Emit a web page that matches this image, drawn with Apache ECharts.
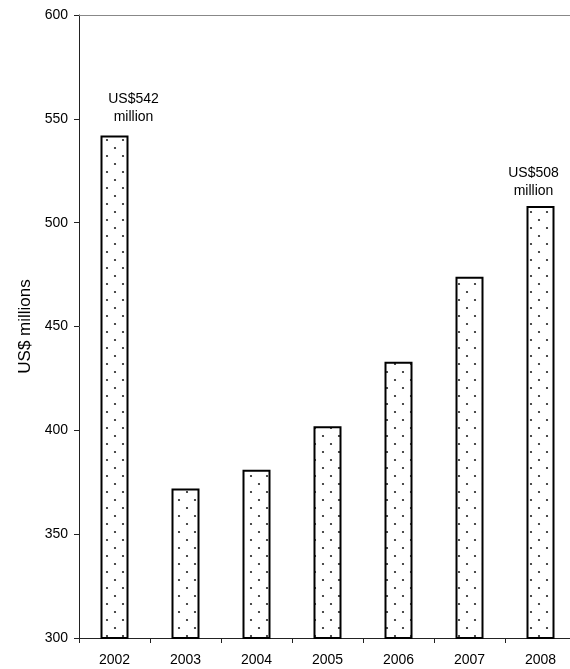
<!DOCTYPE html>
<html>
<head>
<meta charset="utf-8">
<script src="https://cdn.jsdelivr.net/npm/echarts@6/dist/echarts.min.js"></script>
<style>
  html, body { margin: 0; padding: 0; background: #fff; overflow: hidden; }
  #chart { width: 580px; height: 669px; }
</style>
</head>
<body>
<div id="chart"></div>
<script>
// Annual totals, US$ millions
const years = ['2002', '2003', '2004', '2005', '2006', '2007', '2008'];
const values = [542, 372, 381, 402, 433, 474, 508];
const yTicks = { min: 300, max: 600, step: 50 };
const axisTitle = 'US$ millions';
// Callouts shown above selected bars
const callouts = { '2002': 'US$542\nmillion', '2008': 'US$508\nmillion' };

// Dotted fill for the bars
function dotPattern() {
  const c = document.createElement('canvas');
  c.width = 16; c.height = 16;
  const g = c.getContext('2d');
  g.fillStyle = '#fff';
  g.fillRect(0, 0, 16, 16);
  g.fillStyle = '#222';
  [[3, 4], [11, 12]].forEach(([x, y]) => {
    g.beginPath();
    g.arc(x, y, 1.1, 0, Math.PI * 2);
    g.fill();
  });
  return c;
}

const font = "'Liberation Sans', Arial, sans-serif";
const pattern = { image: dotPattern(), repeat: 'repeat' };

const labelTweaks = {
  '2002': { offset: [19, 0], distance: 9 },
  '2008': { offset: [-7, 0], distance: 6 }
};

const barData = years.map((y, i) => {
  const item = { value: values[i] };
  if (callouts[y]) {
    item.label = {
      show: true,
      position: 'top',
      formatter: callouts[y],
      fontFamily: font,
      fontSize: 14,
      lineHeight: 18,
      color: '#000',
      align: 'center',
      offset: labelTweaks[y].offset,
      distance: labelTweaks[y].distance
    };
  }
  return item;
});

const chart = echarts.init(document.getElementById('chart'));
chart.setOption({
  animation: false,
  backgroundColor: '#fff',
  grid: { left: 79, top: 15, width: 497, height: 623, containLabel: false },
  xAxis: [
    {
      type: 'category',
      data: years,
      position: 'bottom',
      axisLine: { lineStyle: { color: '#222', width: 1 } },
      axisTick: { show: true, length: 5, lineStyle: { color: '#222' } },
      axisLabel: { color: '#000', fontFamily: font, fontSize: 14, margin: 15 }
    },
    {
      type: 'category',
      data: years,
      position: 'top',
      axisLine: { lineStyle: { color: '#888', width: 1 } },
      axisTick: { show: false },
      axisLabel: { show: false }
    }
  ],
  yAxis: {
    type: 'value',
    min: yTicks.min,
    max: yTicks.max,
    interval: yTicks.step,
    name: axisTitle,
    nameLocation: 'middle',
    nameGap: 45,
    nameTextStyle: { color: '#000', fontFamily: font, fontSize: 17 },
    axisLine: { show: true, lineStyle: { color: '#222', width: 1 } },
    axisTick: { show: true, length: 5, lineStyle: { color: '#222' } },
    axisLabel: { color: '#000', fontFamily: font, fontSize: 14, margin: 11 },
    splitLine: { show: false }
  },
  series: [{
    type: 'bar',
    xAxisIndex: 0,
    data: barData,
    barWidth: 28,
    itemStyle: { color: pattern, borderColor: '#000', borderWidth: 2 }
  }]
});
</script>
</body>
</html>
